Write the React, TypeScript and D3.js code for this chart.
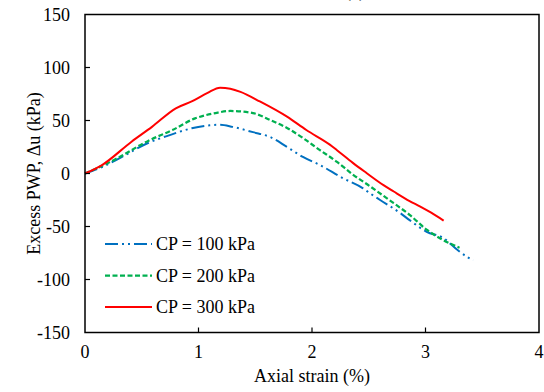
import React from "react";
import * as d3 from "d3";

const strain100 = [0, 0.15, 0.33, 0.56, 0.74, 0.94, 1.1, 1.19, 1.3, 1.48, 1.63, 1.78, 1.92, 2.07, 2.27, 2.45, 2.51, 2.6, 2.78, 2.86, 3.01, 3.16, 3.28, 3.37, 3.42];
const pwp100 = [0, 6, 16, 29, 36, 42.6, 45.5, 46, 44, 39, 34.5, 25, 15.6, 8, -4.3, -14, -18.6, -25, -37.5, -44, -55, -61, -72, -79, -82];

const strain200 = [0, 0.26, 0.56, 0.77, 0.97, 1.15, 1.28, 1.48, 1.63, 1.78, 1.92, 2.07, 2.22, 2.36, 2.51, 2.72, 2.86, 3.01, 3.16, 3.3];
const pwp200 = [0, 13, 31, 41, 52, 57, 59, 57, 50.5, 43, 33.5, 22, 11, -1, -12, -28, -39, -53, -63, -70];

const strain300 = [0, 0.15, 0.41, 0.59, 0.8, 0.94, 1.08, 1.19, 1.28, 1.37, 1.54, 1.78, 1.95, 2.16, 2.22, 2.36, 2.48, 2.63, 2.72, 2.86, 2.95, 3.05, 3.16];
const pwp300 = [0, 8, 30, 44, 61.5, 68, 76, 81, 80, 77, 68, 53.6, 41, 27, 22, 10, 0.5, -11, -17, -26, -31, -37, -44.5];

const xTicks = [0, 1, 2, 3, 4];
const yTicks = [-150, -100, -50, 0, 50, 100, 150];
const seriesLabels = ["CP = 100 kPa", "CP = 200 kPa", "CP = 300 kPa"];

export default function App() {
  const W = 544, H = 392;
  const left = 85, right = 539, top = 14.5, bottom = 332.5;
  const x = d3.scaleLinear().domain([0, 4]).range([left, right]);
  const y = d3.scaleLinear().domain([-150, 150]).range([bottom, top]);
  const font = "'Liberation Serif', 'Times New Roman', serif";

  const mk = (xs: number[], ys: number[]) =>
    d3.line<number>().x((_, i) => x(xs[i])).y((_, i) => y(ys[i])).curve(d3.curveMonotoneX)(xs);

  const series = [
    { d: mk(strain100, pwp100), color: "#0070C0", dash: "13 4 2 4 2 4", w: 2 },
    { d: mk(strain200, pwp200), color: "#00B050", dash: "5 2.5", w: 2.25 },
    { d: mk(strain300, pwp300), color: "#FF0000", dash: "none", w: 2 },
  ];

  return (
    <svg width={W} height={H} style={{ position: "absolute", left: 0, top: 0, background: "#fff" }} fontFamily={font}>
      <text x={355} y={-3} fontSize={18} textAnchor="middle">(a)</text>
      {series.map((s, i) => (
        <path key={i} d={s.d || ""} fill="none" stroke={s.color} strokeWidth={s.w} strokeDasharray={s.dash} />
      ))}
      <rect x={left} y={top} width={right - left} height={bottom - top} fill="none" stroke="#000" strokeWidth={1.5} />
      {yTicks.slice(1, -1).map((t) => (
        <line key={"yt" + t} x1={left} x2={left + 5} y1={y(t)} y2={y(t)} stroke="#000" strokeWidth={1.2} />
      ))}
      {xTicks.slice(1, -1).map((t) => (
        <line key={"xt" + t} x1={x(t)} x2={x(t)} y1={bottom} y2={bottom - 5} stroke="#000" strokeWidth={1.2} />
      ))}
      {yTicks.map((t) => (
        <text key={"yl" + t} x={70} y={y(t) + 6} fontSize={18} textAnchor="end">{t}</text>
      ))}
      {xTicks.map((t) => (
        <text key={"xl" + t} x={x(t)} y={358} fontSize={18} textAnchor="middle">{t}</text>
      ))}
      <text x={(left + right) / 2} y={382} fontSize={18} textAnchor="middle">Axial strain (%)</text>
      <text transform={`translate(40,${(top + bottom) / 2}) rotate(-90)`} fontSize={18} textAnchor="middle">Excess PWP, Δu (kPa)</text>
      {series.map((s, i) => (
        <g key={"lg" + i}>
          <line x1={105} x2={152} y1={244 + i * 31.5} y2={244 + i * 31.5} stroke={s.color} strokeWidth={s.w} strokeDasharray={s.dash} />
          <text x={156} y={250 + i * 31.5} fontSize={18}>{seriesLabels[i]}</text>
        </g>
      ))}
    </svg>
  );
}
